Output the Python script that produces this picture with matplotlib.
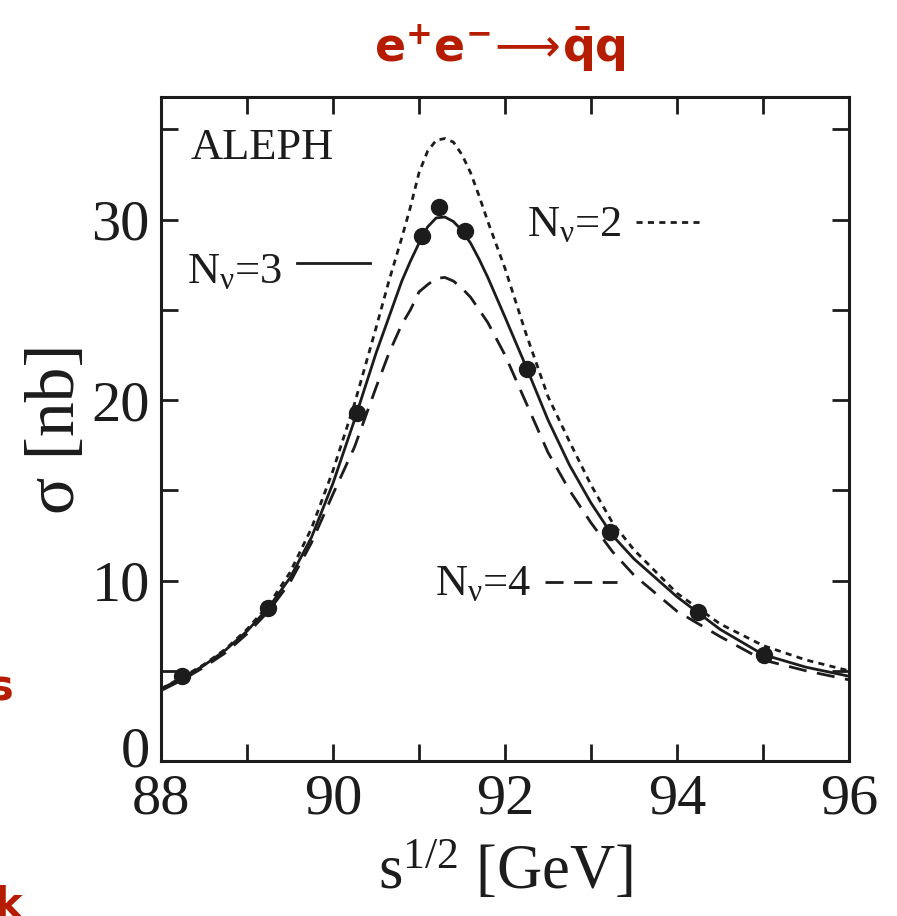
import matplotlib
matplotlib.use("Agg")
import matplotlib.pyplot as plt
import matplotlib.transforms as mtransforms
from matplotlib.ticker import MultipleLocator

plt.rcParams["font.family"] = ["Liberation Serif", "DejaVu Serif"]
plt.rcParams["mathtext.fontset"] = "custom"
plt.rcParams["mathtext.rm"] = "Liberation Serif"
plt.rcParams["mathtext.it"] = "Liberation Serif:italic"
plt.rcParams["mathtext.bf"] = "Liberation Serif:bold"

# ALEPH hadronic cross section measurements
sqrt_s_data = [88.24, 89.24, 90.28, 91.03, 91.23, 91.53, 92.26, 93.22, 94.24, 95.01]
sigma_data = [4.7, 8.5, 19.3, 29.1, 30.7, 29.4, 21.7, 12.7, 8.25, 5.87]

# Standard model curves for 2, 3, 4 light neutrino species
sqrt_s_curve = [88.0, 88.25, 88.5, 88.75, 89.0, 89.25, 89.5, 89.75, 90.0, 90.25,
                90.5, 90.65, 90.8, 90.9, 91.0, 91.1, 91.2, 91.3, 91.4, 91.5,
                91.6, 91.7, 91.8, 91.9, 92.0, 92.25, 92.5, 92.75, 93.0, 93.25,
                93.5, 94.0, 94.5, 95.0, 95.5, 96.0]
sigma_nu2 = [4.0, 4.65, 5.35, 6.2, 7.3, 8.65, 10.45, 12.9, 16.1, 19.8,
             24.0, 26.6, 29.0, 30.7, 32.6, 33.8, 34.4, 34.5, 34.3, 33.6,
             32.6, 31.3, 29.9, 28.6, 27.3, 23.6, 20.2, 17.7, 15.3, 13.2,
             11.7, 9.3, 7.6, 6.4, 5.6, 5.0]
sigma_nu3 = [4.0, 4.6, 5.3, 6.15, 7.2, 8.5, 10.15, 12.4, 15.4, 18.9,
             22.6, 24.6, 26.6, 27.7, 28.7, 29.6, 30.1, 30.15, 29.9, 29.4,
             28.7, 27.8, 26.8, 25.7, 24.6, 21.8, 18.9, 16.4, 14.3, 12.5,
             11.2, 9.1, 7.3, 5.9, 5.2, 4.7]
sigma_nu4 = [3.9, 4.5, 5.2, 6.0, 7.05, 8.3, 9.9, 12.1, 14.8, 17.4,
             20.7, 22.6, 24.2, 25.0, 26.0, 26.4, 26.75, 26.8, 26.6, 26.2,
             25.7, 25.0, 24.3, 23.4, 22.5, 19.8, 17.1, 15.0, 13.2, 11.6,
             10.3, 8.3, 6.9, 5.6, 5.0, 4.5]

ink = "#1c1c1c"
red = "#b51c00"
lw = 2.0
dotted = (0, (2.2, 1.9))
dashed = (0, (6.5, 3.8))

fig = plt.figure(figsize=(8.97, 9.16), dpi=100)
ax = fig.add_axes([0.1795, 0.1692, 0.767, 0.7249])

ax.plot(sqrt_s_curve, sigma_nu2, color=ink, lw=lw, ls=dotted)
ax.plot(sqrt_s_curve, sigma_nu3, color=ink, lw=lw, ls="-")
ax.plot(sqrt_s_curve, sigma_nu4, color=ink, lw=lw, ls=dashed)
ax.plot(sqrt_s_data, sigma_data, "o", color=ink, ms=11.5, zorder=5)

# in-plot labels for the curves
lab = 32
ax.text(88.34, 34.0, "ALEPH", fontsize=lab, va="center", ha="left", color=ink)
ax.text(88.30, 26.5, r"N$_{\mathrm{ν}}$=3", fontsize=lab, va="baseline", color=ink)
ax.plot([89.58, 90.43], [27.6, 27.6], color=ink, lw=lw)
ax.text(92.26, 29.1, r"N$_{\mathrm{ν}}$=2", fontsize=lab, va="baseline", color=ink)
ax.plot([93.52, 94.31], [29.86, 29.86], color=ink, lw=lw, ls=dotted)
ax.text(91.19, 9.2, r"N$_{\mathrm{ν}}$=4", fontsize=lab, va="baseline", color=ink)
ax.plot([92.47, 93.30], [9.9, 9.9], color=ink, lw=lw, ls=dashed)

ax.set_xlim(88, 96)
ax.set_ylim(0, 36.8)
ax.xaxis.set_major_locator(MultipleLocator(2))
ax.xaxis.set_minor_locator(MultipleLocator(1))
ax.yaxis.set_major_locator(MultipleLocator(10))
ax.yaxis.set_minor_locator(MultipleLocator(5))
ax.tick_params(which="both", direction="in", top=True, right=True,
               length=12, width=2.0, color=ink)
ax.tick_params(which="major", labelsize=42, labelcolor=ink)
ax.tick_params(axis="x", which="major", pad=9)
ax.tick_params(axis="y", which="major", pad=8)
for sp in ax.spines.values():
    sp.set_linewidth(2.2)
    sp.set_color(ink)

ax.set_xlabel(r"s$^{\mathrm{1/2}}$ [GeV]", fontsize=45, color=ink, labelpad=11)
ax.set_ylabel("σ [nb]", fontsize=50, color=ink, labelpad=2)

# the "0" label sits a little higher than its tick in the original
fig.canvas.draw()
for t in ax.yaxis.get_majorticklabels():
    if t.get_text() == "0":
        t.set_transform(t.get_transform() + mtransforms.ScaledTranslation(0, 15 / 100, fig.dpi_scale_trans))

fig.text(0.557, 0.948, r"$\mathbf{e^{+}e^{-}}\!\longrightarrow\!\mathbf{\bar{q}q}$",
         fontsize=33, color=red, ha="center", va="center", math_fontfamily="dejavusans")

# cut-off fragments of neighbouring slide text at the left edge
fig.text(-0.012, 0.248, "s", fontsize=30, color=red, fontweight="bold",
         family="DejaVu Sans", ha="left", va="center")
fig.text(-0.006, -0.012, "k", fontsize=30, color=red, fontweight="bold",
         family="DejaVu Sans", ha="left", va="bottom")

fig.savefig("out.png", dpi=100)
